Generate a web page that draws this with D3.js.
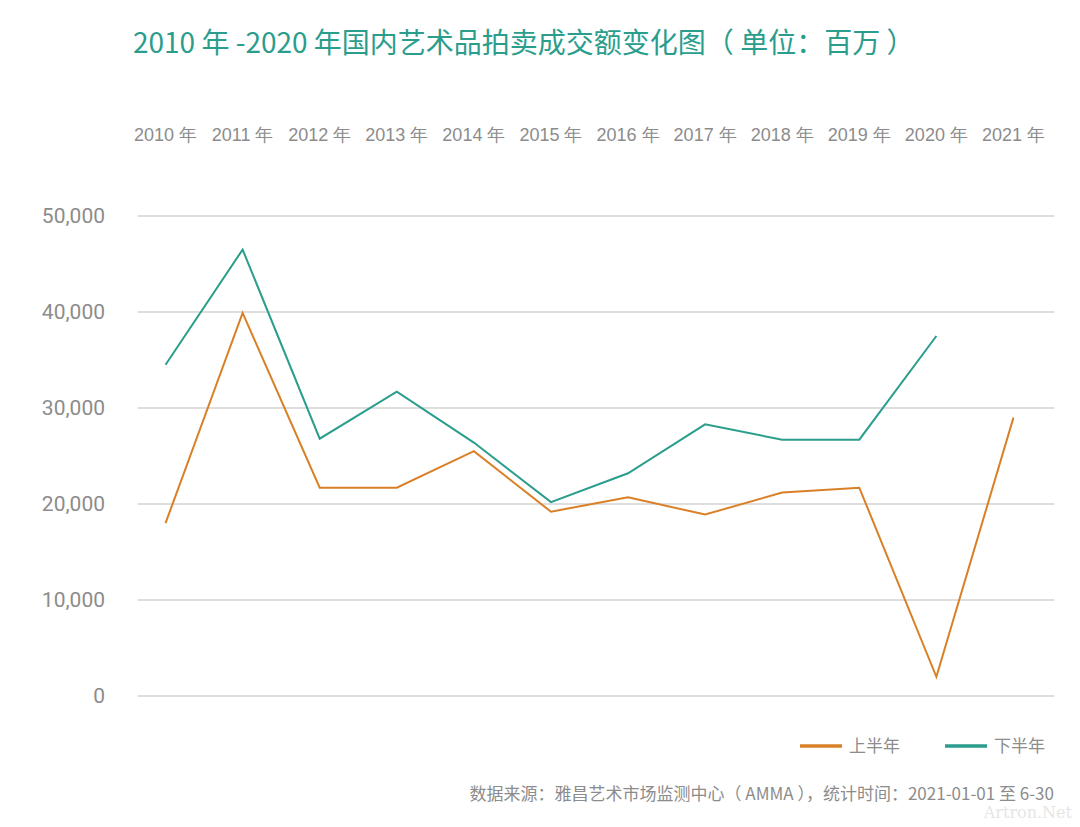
<!DOCTYPE html>
<html><head><meta charset="utf-8">
<script src="https://cdn.jsdelivr.net/npm/d3@7/dist/d3.min.js"></script>
<style>
html,body{margin:0;padding:0;background:#fff;}
svg{display:block;font-family:"Noto Sans CJK SC","Noto Sans",sans-serif;}
</style></head>
<body><svg id="c" width="1080" height="827"></svg>
<script>
const years = ["2010 年","2011 年","2012 年","2013 年","2014 年","2015 年","2016 年","2017 年","2018 年","2019 年","2020 年","2021 年"];
const firstHalf = [18000,39900,21700,21700,25500,19200,20700,18900,21200,21700,2000,29000];
const secondHalf = [34500,46500,26800,31700,26400,20200,23200,28300,26700,26700,37500,null];
const yTicks = [0,10000,20000,30000,40000,50000];
const seriesNames = ["上半年","下半年"];
const colors = ["#d98027","#2a9d8c"];

const svg = d3.select("#c");
const x = d3.scaleBand().domain(years).range([127,1052]);
const y = d3.scaleLinear().domain([0,50000]).range([696,216]);

svg.append("text").attr("x",133).attr("y",53).attr("fill","#2a9d8c")
  .attr("font-size",28).text("2010 年 -2020 年国内艺术品拍卖成交额变化图（ 单位：百万 ）");

// gridlines
svg.append("g").selectAll("line").data(yTicks).join("line")
  .attr("x1",138).attr("x2",1054).attr("y1",d=>y(d)).attr("y2",d=>y(d))
  .attr("stroke","#bdbdbd").attr("stroke-width",1);

// y axis labels
const yAxis = d3.axisLeft(y).tickValues(yTicks).tickFormat(d3.format(",")).tickSize(0).tickPadding(0);
const gy = svg.append("g").attr("transform","translate(105,0)").call(yAxis);
gy.select(".domain").remove();
gy.selectAll("text").attr("fill","#8c8c8c").attr("font-size",21).attr("font-family","Roboto,'Noto Sans',sans-serif");

// x axis labels at top
const xAxis = d3.axisTop(x).tickSize(0).tickPadding(0);
const gx = svg.append("g").attr("transform","translate(0,141)").call(xAxis);
gx.select(".domain").remove();
gx.selectAll("text").attr("fill","#8c8c8c").attr("font-size",18);

const cx = d => x(d) + x.bandwidth()/2;
const line = d3.line().defined(d=>d[1]!=null).x(d=>cx(d[0])).y(d=>y(d[1]));
[firstHalf, secondHalf].forEach((vals,i)=>{
  svg.append("path").datum(years.map((yr,j)=>[yr,vals[j]]))
    .attr("d",line).attr("fill","none").attr("stroke",colors[i]).attr("stroke-width",2);
});

// legend
const leg = [{x:800},{x:945}];
seriesNames.forEach((n,i)=>{
  svg.append("line").attr("x1",leg[i].x).attr("x2",leg[i].x+42).attr("y1",746).attr("y2",746)
    .attr("stroke",colors[i]).attr("stroke-width",3.5);
  svg.append("text").attr("x",leg[i].x+49).attr("y",752).attr("fill","#8c8c8c").attr("font-size",17).text(n);
});

svg.append("text").attr("x",1054).attr("y",800).attr("text-anchor","end").attr("fill","#8c8c8c")
  .attr("font-size",17).text("数据来源：雅昌艺术市场监测中心（ AMMA ），统计时间：2021-01-01 至 6-30");

svg.append("text").attr("x",1072).attr("y",818).attr("text-anchor","end").attr("fill","#e6e6e6")
  .attr("font-size",16).attr("font-family","'DejaVu Serif',serif").text("Artron.Net");
</script></body></html>
